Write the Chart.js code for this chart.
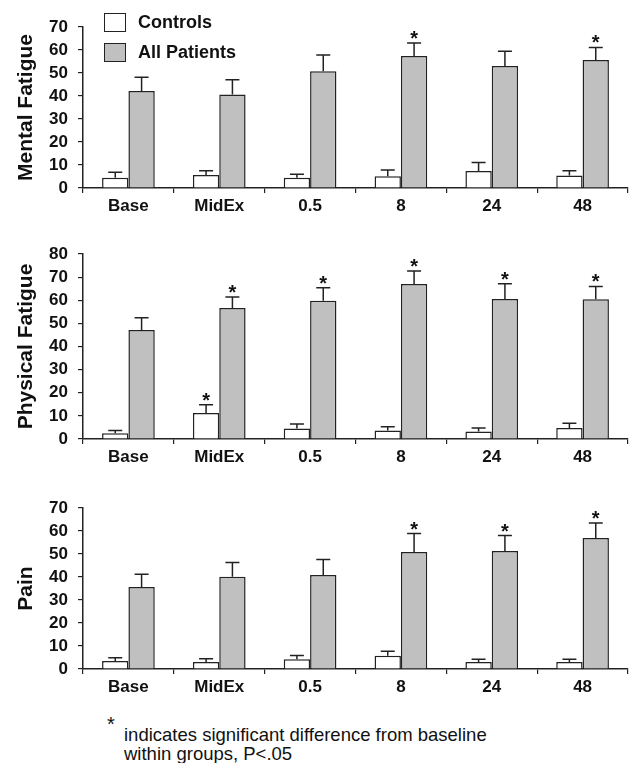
<!DOCTYPE html>
<html>
<head>
<meta charset="utf-8">
<script src="https://cdn.jsdelivr.net/npm/chart.js@4.4.0/dist/chart.umd.min.js"></script>
<style>
  body { margin: 0; background: #fff; font-family: "Liberation Sans", Arial, sans-serif; color: #111; }
  #wrap { position: relative; width: 629px; height: 763px; overflow: hidden; }
  canvas { position: absolute; left: 0; }
  .lbox { position: absolute; left: 104px; width: 22px; height: 19px; border: 1.5px solid #222; box-sizing: border-box; }
  .ltext { position: absolute; left: 138px; font-weight: bold; font-size: 18px; line-height: 20px; }
  .note { position: absolute; font-size: 18.5px; line-height: 19px; }
</style>
</head>
<body>
<div id="wrap">
  <canvas id="mental" width="629" height="218" style="top:0px"></canvas>
  <canvas id="physical" width="629" height="247" style="top:222px"></canvas>
  <canvas id="pain" width="629" height="223" style="top:476px"></canvas>

  <div class="lbox" style="top:13px; background:#fff"></div>
  <div class="ltext" style="top:12px">Controls</div>
  <div class="lbox" style="top:43px; background:#c0c0c0"></div>
  <div class="ltext" style="top:42px">All Patients</div>

  <div class="note" style="left:107px; top:714px; font-size:20px; line-height:20px">*</div>
  <div class="note" style="left:124px; top:725px">indicates significant difference from baseline<br>within groups, P&lt;.05</div>
</div>

<script>
// time points
const timepoints = ["Base", "MidEx", "0.5", "8", "24", "48"];
const seriesNames = ["Controls", "All Patients"];

// Mental Fatigue
const mentalControls = [4.5, 5.6, 4.5, 5.1, 7.4, 5.4];
const mentalControlsErr = [2.3, 1.9, 1.5, 2.7, 3.7, 2.1];
const mentalPatients = [42.2, 40.6, 50.8, 57.4, 53.0, 55.6];
const mentalPatientsErr = [5.9, 6.5, 7.0, 5.6, 6.5, 5.5];
const mentalControlsSig = [false, false, false, false, false, false];
const mentalPatientsSig = [false, false, false, true, false, true];

// Physical Fatigue
const physicalControls = [2.5, 11.2, 4.5, 3.7, 3.2, 4.8];
const physicalControlsErr = [1.2, 3.6, 2.0, 1.6, 1.6, 2.0];
const physicalPatients = [47.1, 56.6, 59.8, 67.0, 60.5, 60.4];
const physicalPatientsErr = [5.3, 4.8, 5.6, 5.6, 6.6, 5.6];
const physicalControlsSig = [false, true, false, false, false, false];
const physicalPatientsSig = [false, true, true, true, true, true];

// Pain
const painControls = [3.5, 3.0, 4.2, 5.8, 3.0, 3.0];
const painControlsErr = [1.4, 1.5, 1.7, 1.9, 1.2, 1.2];
const painPatients = [35.6, 40.1, 40.9, 50.9, 51.3, 57.0];
const painPatientsErr = [5.6, 6.2, 6.7, 8.0, 6.7, 6.5];
const painControlsSig = [false, false, false, false, false, false];
const painPatientsSig = [false, false, false, true, true, true];

const FONT = '"Liberation Sans", Arial, sans-serif';

// draws the upper error whisker and the significance star for every bar
const errorBarPlugin = {
  id: "errorBars",
  afterDatasetsDraw(chart, args, opts) {
    const ctx = chart.ctx;
    const yScale = chart.scales.y;
    ctx.save();
    ctx.strokeStyle = "#222";
    ctx.lineWidth = 1.5;
    ctx.fillStyle = "#111";
    ctx.font = "bold 20px " + FONT;
    ctx.textAlign = "center";
    ctx.textBaseline = "alphabetic";
    chart.data.datasets.forEach((ds, di) => {
      const meta = chart.getDatasetMeta(di);
      meta.data.forEach((bar, i) => {
        const top = yScale.getPixelForValue(ds.data[i] + opts.errors[di][i]);
        ctx.beginPath();
        ctx.moveTo(bar.x, bar.y);
        ctx.lineTo(bar.x, top);
        ctx.moveTo(bar.x - 7, top);
        ctx.lineTo(bar.x + 7, top);
        ctx.stroke();
        if (opts.stars[di][i]) {
          ctx.fillText("*", bar.x, top + 2);
        }
      });
    });
    ctx.restore();
  },
};

function makePanel(id, title, yMax, padTop, controls, controlsErr, patients, patientsErr, controlsSig, patientsSig) {
  const ctx = document.getElementById(id).getContext("2d");
  return new Chart(ctx, {
    type: "bar",
    data: {
      labels: timepoints,
      datasets: [
        {
          label: seriesNames[0],
          data: controls,
          backgroundColor: "#ffffff",
          borderColor: "#222",
          borderWidth: 1.5,
        },
        {
          label: seriesNames[1],
          data: patients,
          backgroundColor: "#c0c0c0",
          borderColor: "#222",
          borderWidth: 1.5,
        },
      ],
    },
    options: {
      responsive: false,
      animation: false,
      layout: { padding: { top: padTop, right: 1, bottom: 0, left: 0 } },
      datasets: { bar: { categoryPercentage: 0.58, barPercentage: 1.0 } },
      plugins: {
        legend: { display: false },
        tooltip: { enabled: false },
        errorBars: {
          errors: [controlsErr, patientsErr],
          stars: [controlsSig, patientsSig],
        },
      },
      scales: {
        x: {
          grid: { drawOnChartArea: false, drawTicks: true, tickLength: 5, color: "#222", lineWidth: 1.2, offset: true },
          border: { color: "#222", width: 1.5 },
          ticks: { color: "#111", padding: 3, autoSkip: false, maxRotation: 0, font: { family: FONT, size: 17, weight: "bold" } },
          afterFit(scale) { scale.height = 30; },
        },
        y: {
          min: 0,
          max: yMax,
          grid: { drawOnChartArea: false, drawTicks: true, tickLength: 5, color: "#222", lineWidth: 1.2 },
          border: { color: "#222", width: 1.5 },
          ticks: { stepSize: 10, autoSkip: false, color: "#111", padding: 10, font: { family: FONT, size: 17, weight: "bold", lineHeight: 1 } },
          title: {
            display: true,
            text: title,
            color: "#111",
            padding: { top: 14, bottom: 0 },
            font: { family: FONT, size: 21, weight: "bold" },
          },
          afterFit(scale) { scale.width = 83; },
        },
      },
    },
    plugins: [errorBarPlugin],
  });
}

makePanel("mental", "Mental Fatigue", 70, 27,
  mentalControls, mentalControlsErr, mentalPatients, mentalPatientsErr, mentalControlsSig, mentalPatientsSig);
makePanel("physical", "Physical Fatigue", 80, 32,
  physicalControls, physicalControlsErr, physicalPatients, physicalPatientsErr, physicalControlsSig, physicalPatientsSig);
makePanel("pain", "Pain", 70, 32,
  painControls, painControlsErr, painPatients, painPatientsErr, painControlsSig, painPatientsSig);
</script>
</body>
</html>
